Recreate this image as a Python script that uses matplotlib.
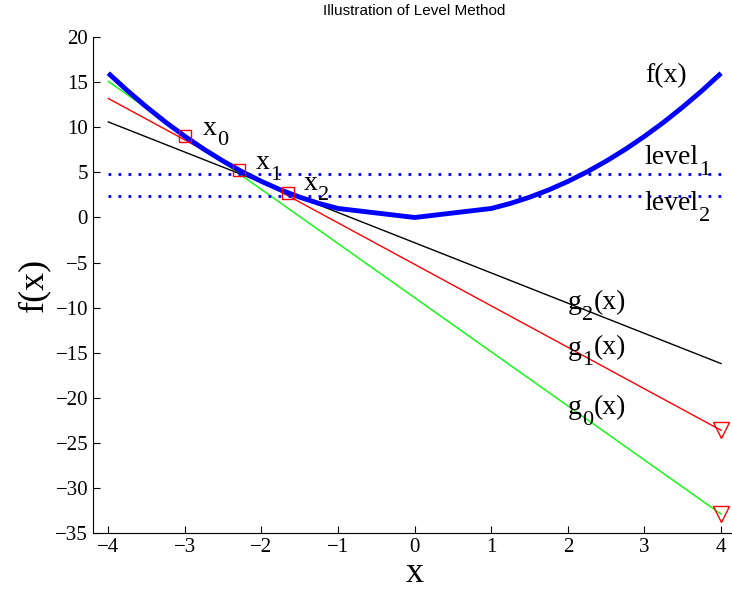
import numpy as np
import matplotlib
matplotlib.use('Agg')
import matplotlib.pyplot as plt

# f(x)
fx = [-4, -3.75, -3.5, -3.25, -3, -2.75, -2.5, -2.25, -2, -1.75, -1.5, -1.25, -1,
      0,
      1, 1.25, 1.5, 1.75, 2, 2.25, 2.5, 2.75, 3, 3.25, 3.5, 3.75, 4]
fy = [16, 14.06, 12.25, 10.56, 9, 7.56, 6.25, 5.06, 4, 3.06, 2.25, 1.56, 1,
      0,
      1, 1.56, 2.25, 3.06, 4, 5.06, 6.25, 7.56, 9, 10.56, 12.25, 14.06, 16]

# cutting planes, end points at x = -4 and x = 4
gx = [-4, 4]
g0 = [15.1, -32.9]
g1 = [13.2, -23.6]
g2 = [10.6, -16.2]

# iterates
iter_x = [-3.0, -2.3, -1.66]
iter_y = [9.0, 5.29, 2.76]

# new lower bounds (triangles)
tri_x = [4, 4]
tri_y = [-23.6, -32.9]

levels = [4.8, 2.4]

serif = 'Liberation Serif'
fs = 20


def sub_label(ax, x, y, main, sub, tail=''):
    # matlab-style subscript: big and dropped low
    t = ax.text(x, y, main, fontsize=fs, family=serif, va='baseline')
    s = ax.annotate(sub, xy=(1, 0), xycoords=t, xytext=(0.5, -7),
                    textcoords='offset points', fontsize=16, family=serif,
                    va='bottom', ha='left')
    if tail:
        ax.annotate(tail, xy=(1, 0), xycoords=(s, t), xytext=(0, 0),
                    textcoords='offset points', fontsize=fs, family=serif,
                    va='bottom', ha='left')


fig = plt.figure(figsize=(7.32, 5.99), dpi=100)
ax = fig.add_axes([0.127, 0.110, 0.879, 0.828])

ax.plot(fx, fy, color='blue', lw=3.5, solid_capstyle='butt', zorder=3)
ax.plot(gx, g0, color='#00ff00', lw=1)
ax.plot(gx, g1, color='red', lw=1)
ax.plot(gx, g2, color='black', lw=1)
for lv in levels:
    ax.plot([-4, 4], [lv, lv], color='blue', lw=2, linestyle=(0, (1, 2.6)))
ax.plot(iter_x, iter_y, 's', mfc='none', mec='red', ms=8, mew=1, zorder=4)
ax.plot(tri_x, tri_y, 'v', mfc='none', mec='red', ms=11, mew=1, zorder=4)

sub_label(ax, -2.77, 9.2, 'x', '0')
sub_label(ax, -2.08, 5.4, 'x', '1')
sub_label(ax, -1.45, 3.1, 'x', '2')
ax.text(3.01, 15.0, 'f(x)', fontsize=fs, family=serif)
sub_label(ax, 3.0, 5.9, 'level', '1')
sub_label(ax, 3.0, 0.8, 'level', '2')
sub_label(ax, 2.0, -10.2, 'g', '2', '(x)')
sub_label(ax, 2.0, -15.2, 'g', '1', '(x)')
sub_label(ax, 2.0, -21.8, 'g', '0', '(x)')

ax.set_xlim(-4.2, 4.2)
ax.set_ylim(-35, 20)
ax.set_xticks(np.arange(-4, 5, 1))
ax.set_yticks(np.arange(-35, 21, 5))
ax.tick_params(direction='in', length=5, labelsize=15, top=False, right=False)
for lab in ax.get_xticklabels() + ax.get_yticklabels():
    lab.set_family(serif)
ax.spines['top'].set_visible(False)
ax.spines['right'].set_visible(False)

ax.set_xlabel('x', fontsize=26, family=serif, labelpad=0)
ax.set_ylabel('f(x)', fontsize=26, family=serif, labelpad=4)
ax.set_title('Illustration of Level Method', fontsize=11, family='Liberation Sans', pad=16)

plt.savefig('out.png', dpi=100)
